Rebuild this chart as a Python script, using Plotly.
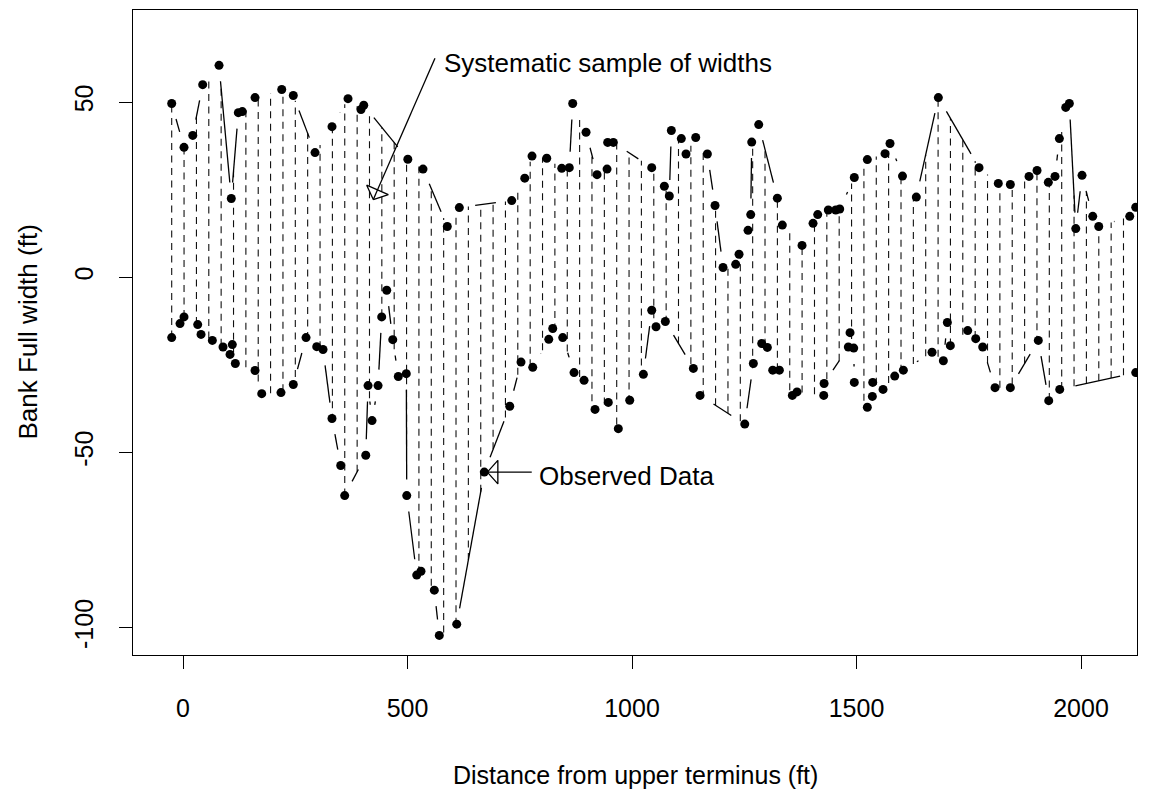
import math
import plotly.graph_objects as go

# ---------------- data ----------------
upper_x = [-25.2, 2.2, 21.7, 43.8, 80.2, 107.5, 123.2, 132.1, 160.4, 219.9, 245.6, 294.0, 331.8, 367.5,
           396.4, 402.5, 500.7, 534.5, 588.6, 615.4, 732.1, 761.1, 777.3, 810.1, 843.5, 860.3, 867.9,
           897.6, 922.1, 944.4, 945.8, 958.4, 1043.9, 1072.0, 1083.1, 1087.6, 1109.8, 1120.3, 1141.9,
           1167.8, 1184.9, 1202.7, 1230.9, 1238.4, 1258.4, 1264.4, 1266.6, 1282.2, 1323.7, 1334.8,
           1378.7, 1403.2, 1413.6, 1437.2, 1453.7, 1462.6, 1495.1, 1524.1, 1563.5, 1574.6, 1602.4,
           1633.2, 1682.3, 1772.9, 1815.8, 1842.6, 1884.2, 1902.1, 1927.2, 1942.1, 1951.8, 1966.0,
           1974.0, 1988.3, 2002.3, 2026.1, 2039.5, 2108.5, 2121.9]
upper_y = [49.6, 37.1, 40.5, 55.0, 60.5, 22.5, 47.0, 47.3, 51.3, 53.6, 51.9, 35.6, 43.0, 51.0,
           47.9, 49.1, 33.7, 30.9, 14.5, 19.9, 21.9, 28.3, 34.6, 34.0, 31.1, 31.3, 49.6,
           41.4, 29.3, 30.9, 38.5, 38.5, 31.3, 26.0, 23.2, 41.9, 39.6, 35.2, 39.9,
           35.2, 20.5, 2.8, 3.7, 6.6, 13.4, 17.9, 38.6, 43.6, 22.6, 14.9,
           9.1, 15.4, 17.9, 19.2, 19.2, 19.5, 28.5, 33.6, 35.3, 38.2, 28.9,
           22.9, 51.3, 31.3, 26.8, 26.5, 28.8, 30.5, 27.1, 28.8, 39.6, 48.5,
           49.6, 13.9, 29.1, 17.4, 14.5, 17.4, 20.0]

lower_x = [-25.2, -6.7, 2.2, 32.7, 40.1, 65.3, 89.1, 104.7, 109.8, 116.5, 160.4, 175.3, 218.2, 245.6,
           274.0, 297.8, 311.8, 331.8, 351.2, 360.1, 407.0, 412.1, 421.0, 434.4, 442.5, 453.7, 467.1,
           479.5, 497.3, 498.3, 520.5, 530.0, 559.7, 570.8, 609.6, 671.0, 727.7, 752.8, 778.9, 814.6,
           823.4, 845.7, 870.9, 893.2, 917.6, 947.2, 969.5, 994.9, 1025.3, 1043.9, 1053.5, 1074.2,
           1136.6, 1151.5, 1251.1, 1270.2, 1288.9, 1301.4, 1313.4, 1328.2, 1357.1, 1367.5, 1427.0,
           1427.8, 1481.8, 1485.6, 1493.8, 1495.1, 1524.1, 1535.3, 1536.1, 1559.1, 1585.1, 1604.3,
           1668.2, 1693.4, 1702.3, 1709.0, 1747.7, 1765.5, 1781.1, 1808.5, 1842.6, 1904.9, 1928.1,
           1952.6, 2121.9]
lower_y = [-17.2, -13.2, -11.3, -13.5, -16.3, -18.0, -19.9, -22.0, -19.2, -24.6, -26.6, -33.2, -32.9, -30.6,
           -17.2, -19.8, -20.6, -40.3, -53.7, -62.3, -50.8, -30.9, -40.9, -30.9, -11.3, -3.7, -17.8,
           -28.3, -27.5, -62.3, -85.0, -83.9, -89.3, -102.2, -99.0, -55.6, -36.8, -24.2, -25.7, -17.7,
           -14.6, -17.2, -27.2, -29.4, -37.7, -35.7, -43.2, -35.1, -27.7, -9.4, -14.1, -12.6,
           -26.0, -33.7, -41.9, -24.6, -18.9, -20.0, -26.5, -26.5, -33.7, -32.7, -33.7,
           -30.3, -19.9, -15.8, -20.2, -30.0, -37.1, -34.0, -30.0, -32.0, -28.2, -26.5,
           -21.4, -23.8, -12.9, -19.5, -15.2, -17.5, -19.9, -31.5, -31.5, -18.0, -35.2,
           -32.0, -27.2]

# systematic sample positions (every ~27.5 ft)
sample_x = [-25.2, 2.3, 29.9, 57.4, 84.9, 112.5, 140.0, 167.5, 195.0, 222.6, 250.1, 277.6, 305.2,
            332.7, 360.2, 387.8, 415.3, 442.8, 470.3, 497.9, 525.4, 552.9, 580.5, 608.0, 635.5,
            663.1, 690.6, 718.1, 745.6, 773.2, 800.7, 828.2, 855.8, 883.3, 910.8, 938.4, 965.9,
            993.4, 1020.9, 1048.5, 1076.0, 1103.5, 1131.1, 1158.6, 1186.1, 1213.7, 1241.2, 1268.7,
            1296.2, 1323.8, 1351.3, 1378.8, 1406.4, 1433.9, 1461.4, 1489.0, 1516.5, 1544.0, 1571.5,
            1599.1, 1626.6, 1654.1, 1681.7, 1709.2, 1736.7, 1764.3, 1791.8, 1819.3, 1846.8, 1874.4,
            1901.9, 1929.4, 1957.0, 1984.5, 2012.0, 2039.6, 2067.1, 2094.6]

x_ticks = [0, 500, 1000, 1500, 2000]
y_ticks = [-100, -50, 0, 50]

x_title = "Distance from upper terminus (ft)"
y_title = "Bank Full width (ft)"

label_sample = "Systematic sample of widths"
label_sample_text = (576.2, 61.1)
label_sample_tail = (561.2, 62.5)
label_sample_tip = (423.8, 22.2)

label_obs = "Observed Data"
label_obs_text = (787.8, -56.8)
label_obs_tail = (776.7, -55.6)
label_obs_tip = (677.8, -55.6)

# ---------------- layout geometry ----------------
W, H = 1167, 792
M_L, M_R, M_T, M_B = 133, 30, 10, 137
X_RANGE = [-111.4, 2124.7]
Y_RANGE = [-107.8, 76.3]
PX_X = (W - M_L - M_R) / (X_RANGE[1] - X_RANGE[0])
PX_Y = (H - M_T - M_B) / (Y_RANGE[1] - Y_RANGE[0])
FONT = "Liberation Sans, Arial, Helvetica, sans-serif"
FS = 25


def interp(x, xs, ys):
    if x <= xs[0]:
        return ys[0]
    for i in range(len(xs) - 1):
        if xs[i] <= x <= xs[i + 1]:
            if xs[i + 1] == xs[i]:
                return ys[i]
            t = (x - xs[i]) / (xs[i + 1] - xs[i])
            return ys[i] + t * (ys[i + 1] - ys[i])
    return ys[-1]


def gapped(xs, ys, gap=16.0):
    """R type='b' style: segments shortened near each point."""
    ox, oy = [], []
    for i in range(len(xs) - 1):
        dx, dy = xs[i + 1] - xs[i], ys[i + 1] - ys[i]
        d = math.hypot(dx * PX_X, dy * PX_Y)
        if d > 2 * gap:
            f = gap / d
            ox += [xs[i] + f * dx, xs[i + 1] - f * dx, None]
            oy += [ys[i] + f * dy, ys[i + 1] - f * dy, None]
    return ox, oy


def head(tip, tail, L=10.5, Hw=11.8):
    ux = (tail[0] - tip[0]) * PX_X
    uy = (tail[1] - tip[1]) * PX_Y
    d = math.hypot(ux, uy)
    ux, uy = ux / d, uy / d
    nx, ny = -uy, ux
    pts = [(0, 0), (L * ux + Hw * nx, L * uy + Hw * ny), (L * ux - Hw * nx, L * uy - Hw * ny), (0, 0)]
    return ([tip[0] + p[0] / PX_X for p in pts], [tip[1] + p[1] / PX_Y for p in pts])


fig = go.Figure()

# dashed systematic sample widths
dxs, dys = [], []
for sx in sample_x:
    dxs += [sx, sx, None]
    dys += [interp(sx, lower_x, lower_y), interp(sx, upper_x, upper_y), None]
fig.add_trace(go.Scatter(x=dxs, y=dys, mode="lines",
                         line=dict(color="#111111", width=1.1, dash="7px,5.5px"),
                         hoverinfo="skip", showlegend=False))

# bank lines (type = "b")
for xs, ys in ((upper_x, upper_y), (lower_x, lower_y)):
    gx, gy = gapped(xs, ys)
    fig.add_trace(go.Scatter(x=gx, y=gy, mode="lines", line=dict(color="black", width=1.3),
                             hoverinfo="skip", showlegend=False))
    fig.add_trace(go.Scatter(x=xs, y=ys, mode="markers",
                             marker=dict(color="black", size=9, line=dict(width=0)),
                             showlegend=False))

# annotation arrows
for tip, tail in ((label_sample_tip, label_sample_tail), (label_obs_tip, label_obs_tail)):
    fig.add_trace(go.Scatter(x=[tail[0], tip[0]], y=[tail[1], tip[1]], mode="lines",
                             line=dict(color="black", width=1.3), hoverinfo="skip", showlegend=False))
    hx, hy = head(tip, tail)
    fig.add_trace(go.Scatter(x=hx, y=hy, mode="lines", line=dict(color="black", width=1.3),
                             hoverinfo="skip", showlegend=False))

annotations = [
    dict(x=label_sample_text[0], y=label_sample_text[1], text=label_sample, showarrow=False,
         xanchor="left", yanchor="middle", font=dict(size=26, color="black", family=FONT)),
    dict(x=label_obs_text[0], y=label_obs_text[1], text=label_obs, showarrow=False,
         xanchor="left", yanchor="middle", font=dict(size=26, color="black", family=FONT)),
    dict(x=0.5, y=0, xref="paper", yref="paper", text=x_title, showarrow=False,
         xanchor="center", yanchor="middle", yshift=-120,
         font=dict(size=FS, color="black", family=FONT)),
    dict(x=0, y=0.5, xref="paper", yref="paper", text=y_title, showarrow=False, textangle=-90,
         xanchor="center", yanchor="middle", xshift=-106,
         font=dict(size=26, color="black", family=FONT)),
]

axis_common = dict(showgrid=False, zeroline=False, showline=True, mirror=True,
                   linecolor="black", linewidth=1.3, ticks="outside", ticklen=13,
                   tickwidth=1.3, tickcolor="black",
                   tickfont=dict(size=FS, color="black", family=FONT))

fig.update_layout(
    width=W, height=H,
    margin=dict(l=M_L, r=M_R, t=M_T, b=M_B, autoexpand=False),
    paper_bgcolor="white", plot_bgcolor="white",
    xaxis=dict(range=X_RANGE, tickmode="array", tickvals=x_ticks,
               ticktext=[str(v) for v in x_ticks], ticklabelstandoff=18, **axis_common),
    yaxis=dict(range=Y_RANGE, tickmode="array", tickvals=y_ticks,
               ticktext=[str(v) for v in y_ticks], tickangle=-90, ticklabelstandoff=16,
               **axis_common),
    annotations=annotations,
    showlegend=False,
)

fig.write_html("out.html")
